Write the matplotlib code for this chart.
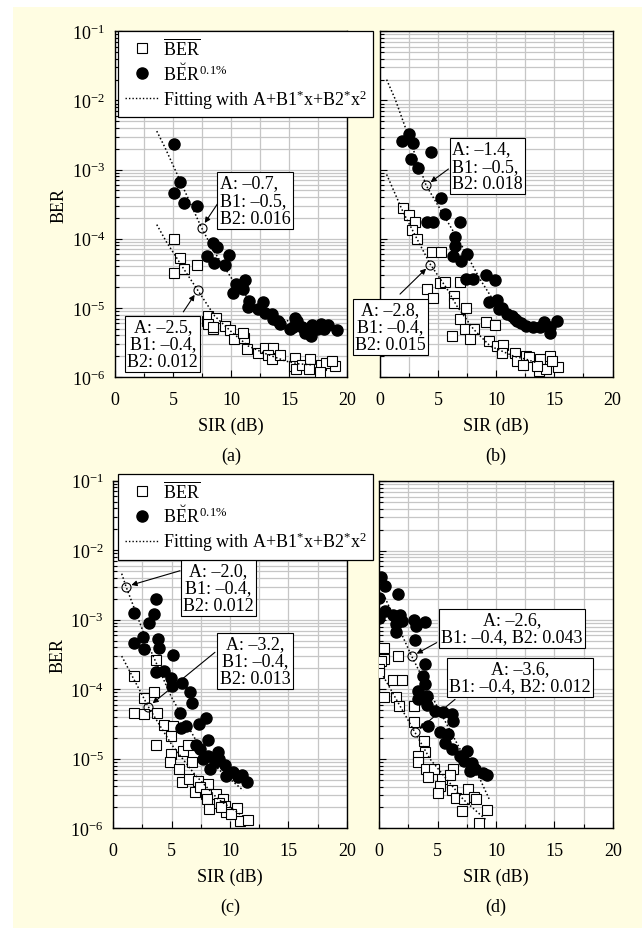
import matplotlib
matplotlib.use("Agg")
import matplotlib.pyplot as plt
from matplotlib.lines import Line2D
from matplotlib.patches import Rectangle
from matplotlib.ticker import MultipleLocator, LogLocator, NullFormatter

plt.rcParams['font.family'] = ['Liberation Serif', 'DejaVu Serif']
plt.rcParams['mathtext.fontset'] = 'custom'
plt.rcParams['mathtext.rm'] = 'Liberation Serif'
plt.rcParams['mathtext.it'] = 'Liberation Serif:italic'
plt.rcParams['mathtext.bf'] = 'Liberation Serif:bold'

# ---------------- data ----------------
# panel (a)
a_circ_x = [5.09, 5.6, 5.11, 5.94, 7.04, 8.42, 8.77, 7.9, 8.53, 9.86, 9.48, 10.43, 10.14, 11.2, 11.06,
            11.58, 11.44, 12.73, 12.3, 12.93, 13.5, 13.65, 14.08, 14.2, 15.52, 15.7, 15.37, 16.1, 16.4,
            16.9, 16.96, 17.8, 18.4, 17.4, 18.0, 19.1, 15.1]
a_circ_y = [2.34e-3, 6.7e-4, 4.6e-4, 3.3e-4, 3.0e-4, 8.8e-5, 7.5e-5, 5.6e-5, 4.5e-5, 5.9e-5, 4.2e-5,
            2.2e-5, 1.66e-5, 2.5e-5, 1.9e-5, 1.26e-5, 1.02e-5, 1.23e-5, 9.5e-6, 8.5e-6, 8.1e-6, 6.9e-6,
            6.5e-6, 5.8e-6, 7.2e-6, 6.5e-6, 5.2e-6, 5.2e-6, 4.4e-6, 3.9e-6, 5.7e-6, 5.9e-6, 5.7e-6,
            4.9e-6, 4.9e-6, 4.8e-6, 5.0e-6]
a_sq_x = [5.09, 5.6, 5.11, 5.94, 7.1, 7.9, 8.42, 8.04, 8.71, 8.04, 8.48, 9.48, 9.91, 10.3, 11.1, 11.0,
          11.4, 12.3, 12.9, 13.6, 13.2, 13.56, 14.2, 15.5, 15.46, 15.6, 16.1, 16.8, 16.7, 17.8, 18.2,
          17.7, 19.0, 18.7]
a_sq_y = [9.9e-5, 5.2e-5, 3.2e-5, 3.6e-5, 4.2e-5, 6.5e-6, 5.0e-6, 7.7e-6, 7.1e-6, 5.8e-6, 5.2e-6,
          5.4e-6, 4.8e-6, 3.6e-6, 3.7e-6, 4.4e-6, 2.5e-6, 2.2e-6, 2.6e-6, 2.6e-6, 2.1e-6, 1.8e-6,
          2.1e-6, 1.9e-6, 1.44e-6, 1.29e-6, 1.5e-6, 1.85e-6, 1.3e-6, 1.5e-6, 1.6e-6, 1.17e-6, 1.44e-6,
          1.7e-6]
a_fitc_x = [3.6, 4.3, 7.45, 8.6, 10.1, 11.5, 12.9, 14.4, 15.8, 17.5]
a_fitc_y = [3.6e-3, 2.1e-3, 1.45e-4, 6.3e-5, 2.6e-5, 1.35e-5, 8.5e-6, 6.9e-6, 5.8e-6, 5.2e-6]
a_fits_x = [3.6, 4.45, 6.0, 7.13, 8.6, 10.1, 11.5, 12.9, 14.7, 15.8, 17.0]
a_fits_y = [1.6e-4, 8.9e-5, 3.5e-5, 1.8e-5, 7.6e-6, 4.4e-6, 2.8e-6, 2.2e-6, 1.7e-6, 1.55e-6, 1.5e-6]
a_mark_x = [7.47, 7.13]
a_mark_y = [1.45e-4, 1.8e-5]
a_notes = ['A: \u20130.7,\nB1: \u20130.5,\nB2: 0.016', 'A: \u20132.5,\nB1: \u20130.4,\nB2: 0.012']

# panel (b)
b_circ_x = [1.87, 2.53, 2.87, 4.37, 2.64, 3.25, 5.23, 5.6, 4.02, 4.6, 6.84, 6.47, 6.47, 6.27, 6.95,
            7.47, 7.41, 7.99, 9.14, 9.91, 9.34, 10.06, 10.2, 11.35, 11.78, 12.6, 11.6, 13.8, 14.66,
            14.1, 15.2, 14.6, 13.2, 12.1, 10.9, 10.5]
b_circ_y = [2.6e-3, 3.3e-3, 2.4e-3, 1.8e-3, 1.4e-3, 1.07e-3, 3.9e-4, 2.3e-4, 1.74e-4, 1.76e-4, 1.74e-4,
            1.05e-4, 7.9e-5, 5.7e-5, 4.7e-5, 6.0e-5, 2.6e-5, 2.6e-5, 3.0e-5, 2.5e-5, 1.2e-5, 1.3e-5,
            9.6e-6, 7.6e-6, 6.5e-6, 5.5e-6, 7.0e-6, 5.2e-6, 4.4e-6, 6.2e-6, 6.4e-6, 5.2e-6, 5.2e-6,
            6.0e-6, 8.1e-6, 1.0e-5]
b_sq_x = [1.95, 2.53, 2.97, 2.73, 3.22, 4.45, 5.26, 4.02, 4.6, 5.17, 5.6, 6.9, 6.38, 6.38, 7.41, 6.9,
          7.33, 6.18, 7.7, 8.1, 9.14, 9.91, 9.34, 10.06, 10.6, 10.5, 11.6, 11.8, 12.6, 12.8, 12.3,
          13.8, 14.66, 13.65, 14.3, 15.3, 14.8, 13.5]
b_sq_y = [2.8e-4, 2.2e-4, 1.76e-4, 1.33e-4, 1.0e-4, 6.5e-5, 6.5e-5, 1.9e-5, 1.38e-5, 2.3e-5, 2.4e-5,
          2.4e-5, 1.5e-5, 1.17e-5, 1.0e-5, 6.9e-6, 4.9e-6, 3.9e-6, 3.5e-6, 4.9e-6, 6.3e-6, 5.6e-6,
          3.3e-6, 2.8e-6, 2.9e-6, 2.2e-6, 2.2e-6, 1.7e-6, 2.0e-6, 1.95e-6, 1.5e-6, 1.8e-6, 2.0e-6,
          1.23e-6, 1.3e-6, 1.4e-6, 1.7e-6, 1.45e-6]
b_fitc_x = [0.57, 1.3, 3.97, 7.2, 8.6, 9.5, 9.8]
b_fitc_y = [2.0e-2, 1.05e-2, 5.9e-4, 7.1e-5, 2.6e-5, 1.5e-5, 1.26e-5]
b_fits_x = [0.57, 2.0, 4.31, 5.75, 6.6, 8.05, 9.48, 11.5, 12.6, 13.5]
b_fits_y = [8.5e-4, 2.4e-4, 4.3e-5, 1.9e-5, 1.07e-5, 4.9e-6, 2.8e-6, 2.0e-6, 1.8e-6, 1.6e-6]
b_mark_x = [3.97, 4.31]
b_mark_y = [5.9e-4, 4.2e-5]
b_notes = ['A: \u20131.4,\nB1: \u20130.5,\nB2: 0.018', 'A: \u20132.8,\nB1: \u20130.4,\nB2: 0.015']

# panel (c)
c_circ_x = [3.69, 1.75, 3.49, 3.05, 2.54, 3.83, 1.75, 2.6, 3.9, 5.12, 3.63, 4.34, 4.97, 5.05, 5.91,
            6.55, 6.74, 5.74, 6.2, 5.8, 7.34, 7.92, 8.11, 7.06, 7.46, 8.11, 8.97, 8.26, 8.69, 9.55,
            9.69, 10.26, 10.69, 11.49, 11.0, 9.1, 7.7]
c_circ_y = [2.0e-3, 1.23e-3, 1.2e-3, 8.9e-4, 5.7e-4, 5.3e-4, 4.6e-4, 3.8e-4, 3.9e-4, 3.1e-4, 1.78e-4,
            1.85e-4, 1.45e-4, 1.13e-4, 1.23e-4, 9.2e-5, 6.4e-5, 4.6e-5, 3.0e-5, 2.8e-5, 3.2e-5, 3.8e-5,
            1.86e-5, 1.6e-5, 1.38e-5, 1.1e-5, 1.26e-5, 7.1e-6, 8.9e-6, 8.1e-6, 5.7e-6, 6.5e-6, 5.4e-6,
            4.7e-6, 5.8e-6, 1.0e-5, 1.0e-5]
c_sq_x = [1.75, 3.63, 2.6, 3.46, 1.75, 2.6, 3.77, 4.32, 5.12, 3.63, 4.97, 4.97, 5.97, 6.4, 4.83, 5.63,
          6.76, 5.91, 6.49, 7.26, 8.11, 6.97, 7.4, 7.97, 8.83, 8.03, 9.4, 9.1, 8.17, 9.55, 9.63, 10.6,
          10.83, 11.54, 10.1, 9.2]
c_sq_y = [1.55e-4, 2.6e-4, 7.6e-5, 9.1e-5, 4.5e-5, 4.4e-5, 4.5e-5, 3.1e-5, 3.0e-5, 1.59e-5, 2.1e-5,
          1.17e-5, 1.3e-5, 1.6e-5, 9.1e-6, 7.1e-6, 8.9e-6, 4.7e-6, 5.2e-6, 4.8e-6, 4.3e-6, 3.3e-6,
          3.9e-6, 3.1e-6, 3.1e-6, 2.6e-6, 2.6e-6, 2.3e-6, 1.9e-6, 2.1e-6, 1.7e-6, 1.95e-6, 1.29e-6,
          1.33e-6, 1.6e-6, 2.0e-6]
c_fitc_x = [0.72, 1.09, 3.0, 5.0, 7.0, 9.0, 11.14]
c_fitc_y = [4.6e-3, 3.0e-3, 4.3e-4, 7.6e-5, 1.95e-5, 7.1e-6, 3.5e-6]
c_fits_x = [0.72, 3.0, 5.0, 7.0, 9.0, 11.1]
c_fits_y = [3.0e-4, 5.6e-5, 1.6e-5, 5.9e-6, 2.6e-6, 1.5e-6]
c_mark_x = [1.09, 3.0]
c_mark_y = [3.0e-3, 5.6e-5]
c_notes = ['A: \u20132.0,\nB1: \u20130.4,\nB2: 0.012', 'A: \u20133.2,\nB1: \u20130.4,\nB2: 0.013']

# panel (d)
d_circ_x = [0.15, 0.49, 1.58, 0.0, 0.49, 0.0, 1.2, 1.77, 1.41, 1.92, 3.0, 3.92, 3.12, 1.41, 3.06,
            3.92, 3.77, 3.92, 3.34, 3.34, 4.06, 4.06, 4.77, 5.48, 6.2, 6.3, 4.14, 5.2, 5.91, 5.6,
            6.26, 7.49, 6.9, 7.28, 7.91, 8.2, 9.25, 8.85, 7.8]
d_circ_y = [4.2e-3, 3.1e-3, 2.35e-3, 2.1e-3, 1.35e-3, 1.07e-3, 1.2e-3, 1.2e-3, 8.7e-4, 9.8e-4, 1.0e-3,
            9.3e-4, 8.1e-4, 6.7e-4, 5.1e-4, 2.3e-4, 1.55e-4, 1.18e-4, 9.5e-5, 7.2e-5, 8.1e-5, 5.9e-5,
            4.9e-5, 4.7e-5, 4.5e-5, 3.5e-5, 3.0e-5, 2.4e-5, 2.3e-5, 1.7e-5, 1.38e-5, 1.3e-5, 1.1e-5,
            9.3e-6, 8.7e-6, 7.1e-6, 5.9e-6, 6.2e-6, 6.6e-6]
d_sq_x = [0.43, 0.43, 1.58, 0.15, 0.0, 0.0, 1.2, 1.97, 0.43, 1.41, 1.69, 3.0, 3.0, 3.86, 3.92, 3.34,
          3.29, 3.98, 4.71, 4.2, 5.35, 6.34, 6.06, 5.2, 6.2, 5.0, 6.55, 7.58, 8.15, 7.28, 7.1, 9.2,
          8.54, 8.3]
d_sq_y = [3.9e-4, 2.75e-4, 3.0e-4, 2.6e-4, 2.0e-4, 1.73e-4, 1.37e-4, 1.37e-4, 7.9e-5, 7.9e-5, 5.8e-5,
          5.8e-5, 3.4e-5, 1.8e-5, 1.24e-5, 1.1e-5, 8.9e-6, 7.2e-6, 7.1e-6, 5.4e-6, 5.2e-6, 7.2e-6,
          5.9e-6, 4.1e-6, 3.6e-6, 3.2e-6, 2.7e-6, 3.7e-6, 2.8e-6, 2.6e-6, 1.8e-6, 1.85e-6, 1.2e-6,
          2.6e-6]
d_fitc_x = [0.49, 2.78, 4.64, 6.92, 8.63, 9.48]
d_fitc_y = [2.1e-3, 3.0e-4, 7.2e-5, 1.38e-5, 5.1e-6, 2.5e-6]
d_fits_x = [0.34, 3.06, 4.34, 5.77, 7.2, 9.2]
d_fits_y = [1.55e-4, 2.4e-5, 1.0e-5, 5.1e-6, 2.6e-6, 1.3e-6]
d_mark_x = [2.78, 3.06]
d_mark_y = [3.0e-4, 2.4e-5]
d_notes = ['A: \u20132.6,\nB1: \u20130.4, B2: 0.043', 'A: \u20133.6,\nB1: \u20130.4, B2: 0.012']

legend_labels = [r'$\overline{\mathrm{BER}}$', r'$\mathrm{B\breve{E}R}^{\,0.1\%}$',
                 r'Fitting with A+B1$^{*}$x+B2$^{*}$x$^{2}$']
panel_tags = ['(a)', '(b)', '(c)', '(d)']

# ---------------- figure ----------------
W, H = 642, 929
fig = plt.figure(figsize=(W / 100, H / 100), dpi=100, facecolor='white')
BG = '#FFFDE2'
fig.patches.append(Rectangle((13 / W, 0), 1 - 13 / W, 1 - 8 / H, transform=fig.transFigure,
                             facecolor=BG, edgecolor='none', zorder=-5))

FS = 13


def px_axes(l, t, r, b):
    return [l / W, 1 - b / H, (r - l) / W, (b - t) / H]


boxes = [px_axes(115, 32.3, 347, 378), px_axes(380, 32.3, 612.5, 378),
         px_axes(113.3, 481.7, 346.7, 829.3), px_axes(379.3, 482.2, 612.7, 829.3)]

panels = [
    (a_circ_x, a_circ_y, a_sq_x, a_sq_y, a_fitc_x, a_fitc_y, a_fits_x, a_fits_y, a_mark_x, a_mark_y, a_notes),
    (b_circ_x, b_circ_y, b_sq_x, b_sq_y, b_fitc_x, b_fitc_y, b_fits_x, b_fits_y, b_mark_x, b_mark_y, b_notes),
    (c_circ_x, c_circ_y, c_sq_x, c_sq_y, c_fitc_x, c_fitc_y, c_fits_x, c_fits_y, c_mark_x, c_mark_y, c_notes),
    (d_circ_x, d_circ_y, d_sq_x, d_sq_y, d_fitc_x, d_fitc_y, d_fits_x, d_fits_y, d_mark_x, d_mark_y, d_notes),
]

# annotation layout: (text center x, y), multialign, (arrow start x, y)
note_layout = [
    [((12.07, 3.58e-4), 'left', (8.82, 3.17e-4)), ((4.12, 3.0e-6), 'center', (5.89, 8.75e-6))],
    [((9.22, 1.12e-3), 'left', (5.89, 1.02e-3)), ((0.905, 5.28e-6), 'center', (1.72, 1.58e-5))],
    [((9.0, 2.88e-3), 'center', (5.72, 5.07e-3)), ((12.14, 2.56e-4), 'center', (8.71, 3.4e-4))],
    [((11.35, 7.67e-4), 'center', (4.92, 4.73e-4)), ((12.06, 1.51e-4), 'center', (6.49, 7.2e-5))],
]

DOT = (0, (1, 1.5))
MS_SQ, MS_CI = 6.6, 8.0
axes = []
for i, (box, pdata) in enumerate(zip(boxes, panels)):
    cx, cy, sx, sy, fcx, fcy, fsx, fsy, mx, my, notes = pdata
    ax = fig.add_axes(box)
    axes.append(ax)
    ax.set_facecolor('white')
    ax.set_yscale('log')
    ax.set_xlim(0, 20)
    ax.set_ylim(1e-6, 1e-1)
    ax.xaxis.set_major_locator(MultipleLocator(5))
    ax.xaxis.set_minor_locator(MultipleLocator(2.5))
    ax.yaxis.set_major_locator(LogLocator(base=10, numticks=10))
    ax.yaxis.set_minor_locator(LogLocator(base=10, subs=range(2, 10), numticks=20))
    ax.yaxis.set_minor_formatter(NullFormatter())
    ax.grid(True, which='both', color='#c6c6c6', lw=0.9)
    ax.set_axisbelow(True)
    ax.tick_params(which='both', direction='in', labelsize=FS, width=0.8)
    ax.tick_params(which='major', length=5)
    ax.tick_params(axis='x', which='major', pad=10)
    ax.tick_params(axis='y', which='major', pad=7)
    ax.tick_params(which='minor', length=3)
    for sp in ax.spines.values():
        sp.set_color('black')
        sp.set_linewidth(1.0)
    if i % 2 == 1:
        ax.tick_params(axis='y', labelleft=False)
    else:
        ax.set_ylabel('BER', fontsize=FS, labelpad=3)
    ax.set_xlabel('SIR (dB)', fontsize=FS, labelpad=6)

    ax.plot(sx, sy, ls='none', marker='s', ms=MS_SQ, mfc='white', mec='black', mew=0.8, zorder=3)
    ax.plot(cx, cy, ls='none', marker='o', ms=MS_CI, mfc='black', mec='black', zorder=4)
    ax.plot(fcx, fcy, color='black', ls=DOT, lw=1.1, zorder=5)
    ax.plot(fsx, fsy, color='black', ls=DOT, lw=1.1, zorder=5)
    ax.plot(mx, my, ls='none', marker='o', ms=6.5, mfc='none', mec='black', mew=0.8, zorder=6)

    for k in range(2):
        (tx, ty), malign, (ax0, ay0) = note_layout[i][k]
        ax.text(tx, ty, notes[k], fontsize=FS, ha='center', va='center', multialignment=malign,
                linespacing=1.05, zorder=8, clip_on=False,
                bbox=dict(boxstyle='square,pad=0.12', facecolor='white', edgecolor='black', lw=0.8))
        ax.annotate('', xy=(mx[k], my[k]), xytext=(ax0, ay0), zorder=7, annotation_clip=False,
                    arrowprops=dict(arrowstyle='-|>', color='black', lw=0.8, mutation_scale=8,
                                    shrinkA=0, shrinkB=4))

# legends in panels (a) and (c)
handles = [Line2D([], [], ls='none', marker='s', ms=MS_SQ, mfc='white', mec='black', mew=0.8),
           Line2D([], [], ls='none', marker='o', ms=MS_CI, mfc='black', mec='black'),
           Line2D([], [], color='black', ls=DOT, lw=1.0)]
for ax, top in ((axes[0], 32.3), (axes[2], 475)):
    leg = ax.legend(handles, legend_labels, loc='upper left', bbox_to_anchor=(118.3 / W, 1 - top / H),
                    bbox_transform=fig.transFigure, fontsize=FS, frameon=True, fancybox=False,
                    edgecolor='black', framealpha=1, borderaxespad=0, borderpad=0.35,
                    handlelength=1.9, handletextpad=0.2, labelspacing=0.2)
    leg.get_frame().set_linewidth(0.9)
    leg.set_zorder(10)

# panel tags
for ax, tag in zip(axes, panel_tags):
    pos = ax.get_position()
    ytag = pos.y0 - 78 / H
    fig.text((pos.x0 + pos.x1) / 2, ytag, tag, ha='center', va='center', fontsize=FS)

fig.savefig('out.png', dpi=100, facecolor=fig.get_facecolor())
